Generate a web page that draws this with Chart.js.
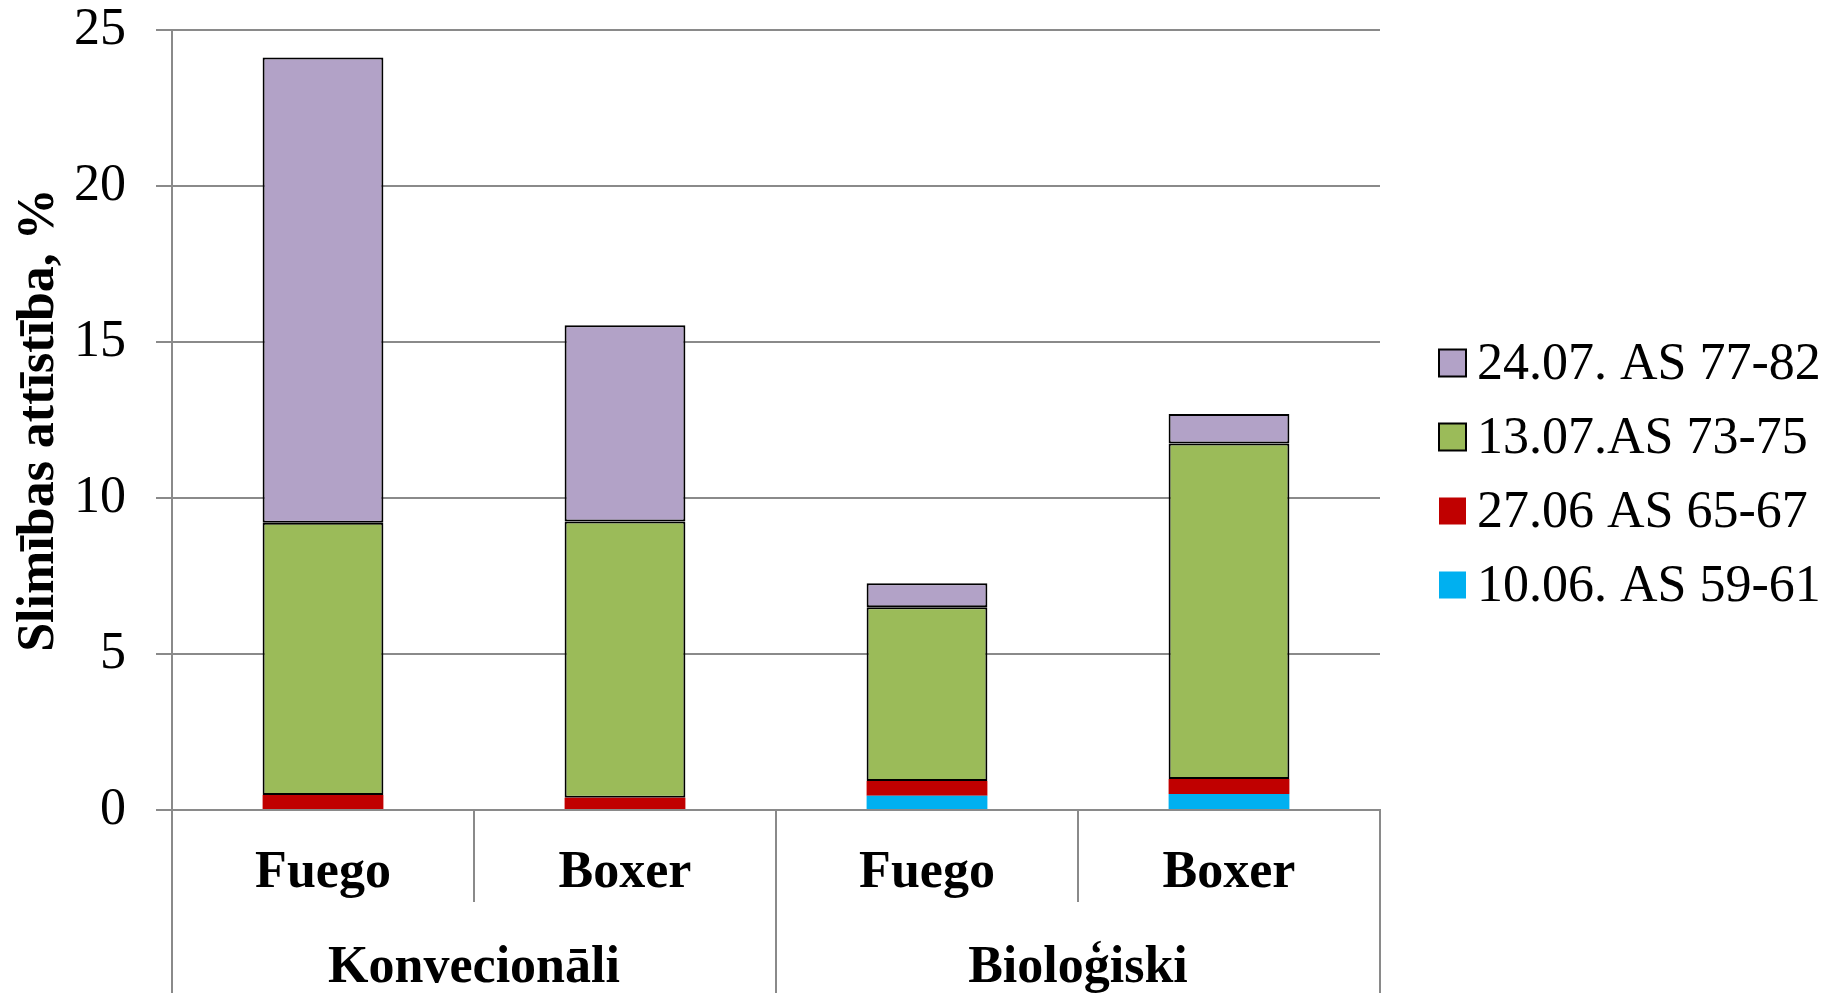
<!DOCTYPE html>
<html>
<head>
<meta charset="utf-8">
<title>Slimības attīstība</title>
<script src="https://cdn.jsdelivr.net/npm/chart.js@4.4.1/dist/chart.umd.min.js"></script>
<style>
html,body{margin:0;padding:0;background:#ffffff;}
#wrap{width:1837px;height:993px;position:relative;}
</style>
</head>
<body>
<div id="wrap"><canvas id="diseaseChart"></canvas></div>
<script>

/* =====================
   Data
===================== */

const cultivars=["Fuego","Boxer","Fuego","Boxer"];

const groups=["Konvecionāli","Bioloģiski"];

const seriesNames=["10.06. AS 59-61","27.06 AS 65-67","13.07.AS 73-75","24.07. AS 77-82"];

const jun10=[0,0,0.46,0.51];

const jun27=[0.48,0.39,0.47,0.48];

const jul13=[8.73,8.86,5.57,10.76];

const jul24=[14.91,6.29,0.77,0.94];

const yTicks=[0,5,10,15,20,25];



const gray="#8a8a8a";

const fontFamily="'Liberation Serif','Times New Roman',serif";



/* =====================
   Legend (drawn at the right)
===================== */

const sideLegend={

id:"sideLegend",

afterDraw(chart){

const ctx=chart.ctx;

const sets=chart.data.datasets.slice().reverse();

const boxX=chart.chartArea.right+59;

const box=27;

let y=363;

ctx.save();

ctx.font="52px "+fontFamily;

ctx.textBaseline="middle";

ctx.textAlign="left";

sets.forEach(ds=>{

ctx.fillStyle=ds.backgroundColor;

ctx.fillRect(boxX,y-box/2,box,box);

if(ds.borderWidth>0){

ctx.lineWidth=2;

ctx.strokeStyle="#000000";

ctx.strokeRect(boxX,y-box/2,box,box);

}

ctx.fillStyle="#000000";

ctx.fillText(ds.label,boxX+38,y+2);

y+=74;

});

ctx.restore();

}

};



/* =====================
   Chart
===================== */

const ctx=document.getElementById("diseaseChart").getContext("2d");

function makeSet(label,data,color,border){

return{

label:label,
data:data,
backgroundColor:color,
borderColor:"#000000",
borderWidth:border,
borderSkipped:false,
categoryPercentage:0.4,
barPercentage:1

};

}

let diseaseChart=new Chart(ctx,{

type:"bar",

data:{

labels:cultivars,

datasets:[

makeSet(seriesNames[0],jun10,"#00B0F0",0),

makeSet(seriesNames[1],jun27,"#C00000",0),

makeSet(seriesNames[2],jul13,"#9BBB59",2),

makeSet(seriesNames[3],jul24,"#B2A2C7",2)

]

},

options:{

responsive:true,

maintainAspectRatio:false,

animation:false,

layout:{padding:{top:30,right:457,left:0,bottom:0}},

plugins:{

legend:{display:false},

tooltip:{enabled:false}

},

scales:{

x:{

stacked:true,

weight:0,

grid:{display:true,drawOnChartArea:false,offset:true,color:gray,lineWidth:2,tickLength:92},

border:{display:true,color:gray,width:2},

ticks:{

color:"#000000",
autoSkip:false,
maxRotation:0,
padding:-54,
font:{family:fontFamily,size:52,weight:"bold",lineHeight:1}

},

afterFit(scale){scale.height=92;}

},

x2:{

type:"category",

position:"bottom",

weight:1,

labels:groups,

offset:true,

grid:{display:true,drawOnChartArea:false,offset:true,color:gray,lineWidth:2,tickLength:91},

border:{display:false},

ticks:{

color:"#000000",
autoSkip:false,
maxRotation:0,
padding:-50,
font:{family:fontFamily,size:52,weight:"bold",lineHeight:1}

},

afterFit(scale){scale.height=91;}

},

y:{

stacked:true,

min:0,

max:25,

afterBuildTicks(scale){scale.ticks=yTicks.map(v=>({value:v}));},

grid:{color:gray,lineWidth:2,tickLength:16},

border:{display:true,color:gray,width:2},

ticks:{

color:"#000000",
padding:30,
font:{family:fontFamily,size:52,lineHeight:1}

},

title:{

display:true,
text:"Slimības attīstība, %",
color:"#000000",
padding:{top:14,bottom:0},
font:{family:fontFamily,size:52,weight:"bold",lineHeight:1}

},

afterFit(scale){

scale.width=172;

scale.paddingTop=0;

scale.paddingBottom=0;

}

}

}

},

plugins:[sideLegend]

});

</script>
</body>
</html>
